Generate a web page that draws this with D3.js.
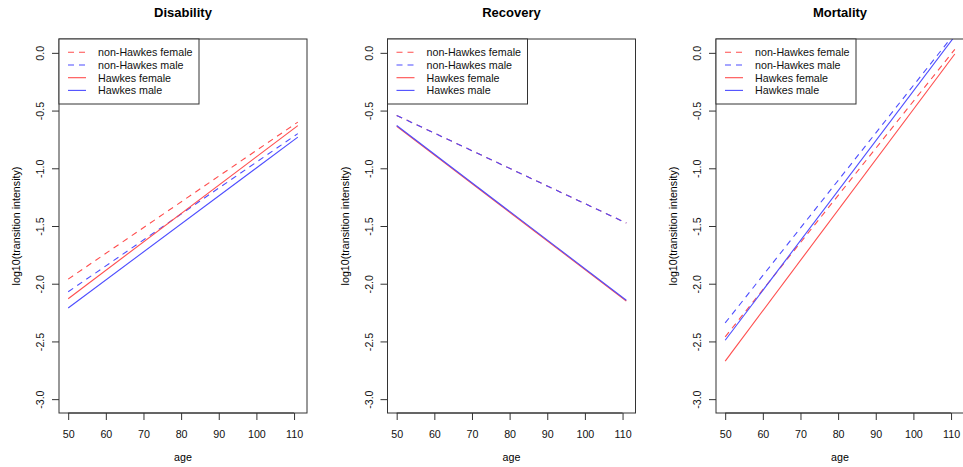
<!DOCTYPE html>
<html>
<head>
<meta charset="utf-8">
<script src="https://cdn.jsdelivr.net/npm/d3@7"></script>
<style>
  body { margin: 0; background: #fff; }
  svg { display: block; font-family: "Liberation Sans", Arial, Helvetica, sans-serif; }
</style>
</head>
<body>
<div id="chart"></div>
<script>
// data: log10 intensity at age 50 and at age 111
const ages = [50, 111];
const panelTitles = ["Disability", "Recovery", "Mortality"];
const seriesNames = ["non-Hawkes female", "non-Hawkes male", "Hawkes female", "Hawkes male"];
const seriesColors = ["#ff4d4d", "#4d4dff", "#ff4d4d", "#4d4dff"];
const seriesDashed = [true, true, false, false];

const disability = [[-1.96, -0.60], [-2.07, -0.70], [-2.13, -0.63], [-2.21, -0.73]];
const recovery = [[-0.542, -1.474], [-0.542, -1.474], [-0.636, -2.15], [-0.629, -2.143]];
const mortality = [[-2.46, 0.03], [-2.34, 0.17], [-2.67, -0.01], [-2.49, 0.145]];
const panelValues = [disability, recovery, mortality];

const xTicks = [50, 60, 70, 80, 90, 100, 110];
const yTicks = [0, -0.5, -1, -1.5, -2, -2.5, -3];
const yTickLabels = ["0.0", "-0.5", "-1.0", "-1.5", "-2.0", "-2.5", "-3.0"];

let dims = {
    width: 963,
    height: 467,
    panelStep: 328.5,
    boxLeft: 59,
    boxWidth: 248,
    boxTop: 39,
    boxHeight: 374,
};

const svg = d3.select("#chart")
    .append("svg")
    .attr("width", dims.width)
    .attr("height", dims.height);

// R style: data range padded by 4% on each side
const xScale = d3.scaleLinear()
    .domain([50 - 61 * 0.04, 111 + 61 * 0.04])
    .range([0, dims.boxWidth]);

const yScale = d3.scaleLinear()
    .domain([-3 - 0.12, 0 + 0.12])
    .range([dims.boxHeight, 0]);

const line = d3.line()
    .x(d => xScale(d[0]))
    .y(d => yScale(d[1]));

const ink = "#333";

panelTitles.forEach((title, p) => {
    const g = svg.append("g")
        .attr("transform", `translate(${dims.boxLeft + p * dims.panelStep}, ${dims.boxTop})`);

    g.append("clipPath")
        .attr("id", "clip" + p)
        .append("rect")
        .attr("width", dims.boxWidth)
        .attr("height", dims.boxHeight);

    // lines
    const lines = g.append("g").attr("clip-path", `url(#clip${p})`);
    panelValues[p].forEach((vals, i) => {
        lines.append("path")
            .datum(ages.map((a, k) => [a, vals[k]]))
            .attr("d", line)
            .attr("fill", "none")
            .attr("stroke", seriesColors[i])
            .attr("stroke-width", 1.1)
            .attr("stroke-dasharray", seriesDashed[i] ? "6,5" : null);
    });

    // x axis
    const xAxis = g.append("g")
        .attr("transform", `translate(0, ${dims.boxHeight})`)
        .call(d3.axisBottom(xScale).tickValues(xTicks).tickSize(7).tickPadding(10));
    xAxis.select(".domain").remove();
    xAxis.append("line")
        .attr("x1", xScale(50)).attr("x2", xScale(110))
        .attr("stroke", ink);

    // y axis
    const yAxis = g.append("g")
        .call(d3.axisLeft(yScale).tickValues(yTicks).tickSize(7)
            .tickFormat((d, i) => yTickLabels[i]));
    yAxis.select(".domain").remove();
    yAxis.selectAll(".tick text")
        .attr("transform", "rotate(-90)")
        .attr("x", 0)
        .attr("y", -15)
        .attr("dy", 0)
        .attr("text-anchor", "middle");

    g.selectAll(".tick line").attr("stroke", ink);
    g.selectAll(".tick text")
        .attr("fill", "#111")
        .style("font-size", "10.7px")
        .style("font-family", "Liberation Sans, Arial, sans-serif");

    // box
    g.append("rect")
        .attr("width", dims.boxWidth)
        .attr("height", dims.boxHeight)
        .attr("fill", "none")
        .attr("stroke", ink);

    // legend
    const leg = g.append("g");
    leg.append("rect")
        .attr("width", 140)
        .attr("height", 65)
        .attr("fill", "#fff")
        .attr("stroke", ink);
    seriesNames.forEach((name, i) => {
        const y = 13.3 + i * 12.7;
        leg.append("line")
            .attr("x1", 9).attr("x2", 27)
            .attr("y1", y).attr("y2", y)
            .attr("stroke", seriesColors[i])
            .attr("stroke-width", 1.1)
            .attr("stroke-dasharray", seriesDashed[i] ? "6,5" : null);
        leg.append("text")
            .attr("x", 39)
            .attr("y", y + 3.8)
            .attr("fill", "#111")
            .style("font-size", "10.7px")
            .text(name);
    });

    // title
    g.append("text")
        .attr("x", dims.boxWidth / 2)
        .attr("y", 16.5 - dims.boxTop)
        .attr("text-anchor", "middle")
        .style("font-size", "13px")
        .style("font-weight", "bold")
        .text(title);

    // axis titles
    g.append("text")
        .attr("x", dims.boxWidth / 2)
        .attr("y", 461 - dims.boxTop)
        .attr("text-anchor", "middle")
        .style("font-size", "10.7px")
        .text("age");

    g.append("text")
        .attr("transform", `translate(${-39}, ${dims.boxHeight / 2}) rotate(-90)`)
        .attr("text-anchor", "middle")
        .style("font-size", "10.7px")
        .text("log10(transition intensity)");
});
</script>
</body>
</html>
